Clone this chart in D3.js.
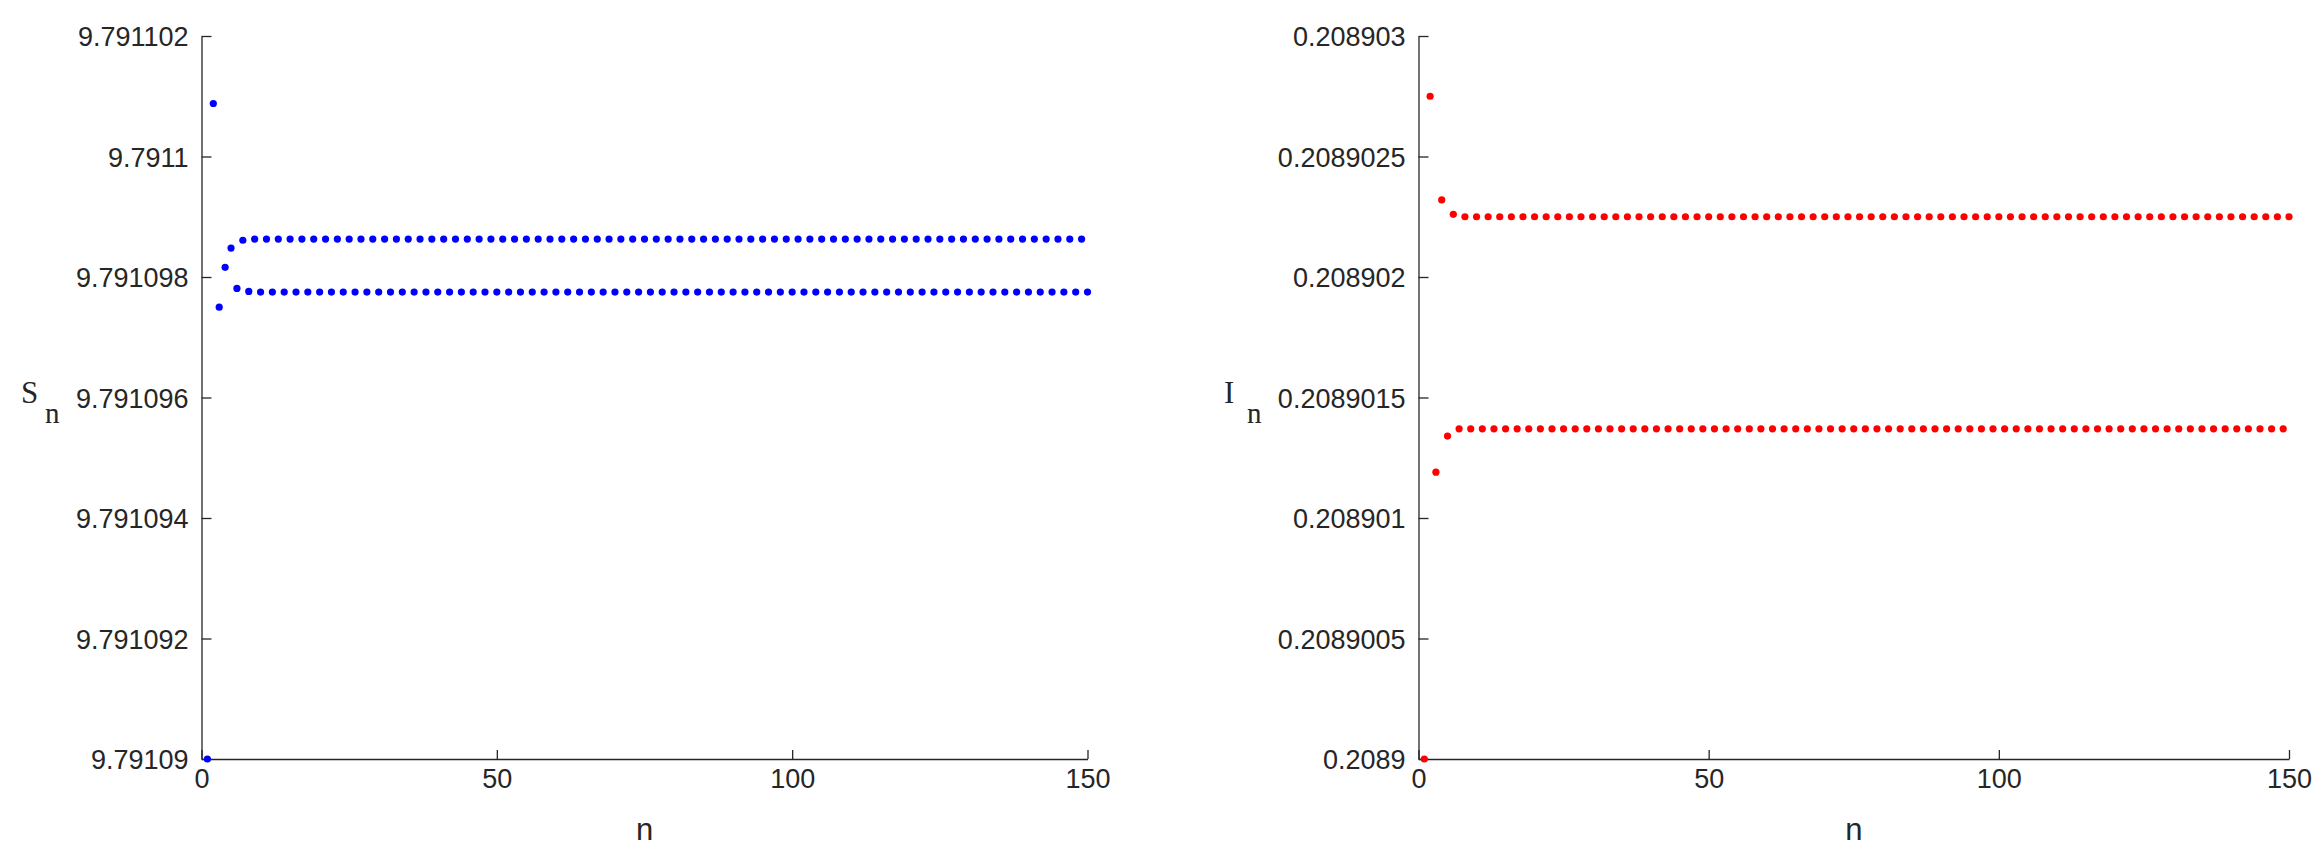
<!DOCTYPE html>
<html>
<head>
<meta charset="utf-8">
<script src="https://cdn.jsdelivr.net/npm/d3@7"></script>
<style>
  html, body { margin: 0; padding: 0; background: #ffffff; }
  svg { display: block; }
</style>
</head>
<body>
<svg id="chart" width="2324" height="860"></svg>
<script>
// ---------- data ----------
const nValues = d3.range(1, 151); // iteration index n = 1..150

const S = [
  9.79109000, 9.79110088, 9.79109750, 9.79109816, 9.79109848, 9.79109781, 9.79109861, 9.79109776, 9.79109863, 9.79109775,
  9.79109863, 9.79109775, 9.79109863, 9.79109775, 9.79109863, 9.79109775, 9.79109863, 9.79109775, 9.79109863, 9.79109775,
  9.79109863, 9.79109775, 9.79109863, 9.79109775, 9.79109863, 9.79109775, 9.79109863, 9.79109775, 9.79109863, 9.79109775,
  9.79109863, 9.79109775, 9.79109863, 9.79109775, 9.79109863, 9.79109775, 9.79109863, 9.79109775, 9.79109863, 9.79109775,
  9.79109863, 9.79109775, 9.79109863, 9.79109775, 9.79109863, 9.79109775, 9.79109863, 9.79109775, 9.79109863, 9.79109775,
  9.79109863, 9.79109775, 9.79109863, 9.79109775, 9.79109863, 9.79109775, 9.79109863, 9.79109775, 9.79109863, 9.79109775,
  9.79109863, 9.79109775, 9.79109863, 9.79109775, 9.79109863, 9.79109775, 9.79109863, 9.79109775, 9.79109863, 9.79109775,
  9.79109863, 9.79109775, 9.79109863, 9.79109775, 9.79109863, 9.79109775, 9.79109863, 9.79109775, 9.79109863, 9.79109775,
  9.79109863, 9.79109775, 9.79109863, 9.79109775, 9.79109863, 9.79109775, 9.79109863, 9.79109775, 9.79109863, 9.79109775,
  9.79109863, 9.79109775, 9.79109863, 9.79109775, 9.79109863, 9.79109775, 9.79109863, 9.79109775, 9.79109863, 9.79109775,
  9.79109863, 9.79109775, 9.79109863, 9.79109775, 9.79109863, 9.79109775, 9.79109863, 9.79109775, 9.79109863, 9.79109775,
  9.79109863, 9.79109775, 9.79109863, 9.79109775, 9.79109863, 9.79109775, 9.79109863, 9.79109775, 9.79109863, 9.79109775,
  9.79109863, 9.79109775, 9.79109863, 9.79109775, 9.79109863, 9.79109775, 9.79109863, 9.79109775, 9.79109863, 9.79109775,
  9.79109863, 9.79109775, 9.79109863, 9.79109775, 9.79109863, 9.79109775, 9.79109863, 9.79109775, 9.79109863, 9.79109775,
  9.79109863, 9.79109775, 9.79109863, 9.79109775, 9.79109863, 9.79109775, 9.79109863, 9.79109775, 9.79109863, 9.79109775
];

const I = [
  0.20890000, 0.20890275, 0.20890119, 0.20890232, 0.20890134, 0.20890226, 0.20890137, 0.20890225, 0.20890137, 0.20890225,
  0.20890137, 0.20890225, 0.20890137, 0.20890225, 0.20890137, 0.20890225, 0.20890137, 0.20890225, 0.20890137, 0.20890225,
  0.20890137, 0.20890225, 0.20890137, 0.20890225, 0.20890137, 0.20890225, 0.20890137, 0.20890225, 0.20890137, 0.20890225,
  0.20890137, 0.20890225, 0.20890137, 0.20890225, 0.20890137, 0.20890225, 0.20890137, 0.20890225, 0.20890137, 0.20890225,
  0.20890137, 0.20890225, 0.20890137, 0.20890225, 0.20890137, 0.20890225, 0.20890137, 0.20890225, 0.20890137, 0.20890225,
  0.20890137, 0.20890225, 0.20890137, 0.20890225, 0.20890137, 0.20890225, 0.20890137, 0.20890225, 0.20890137, 0.20890225,
  0.20890137, 0.20890225, 0.20890137, 0.20890225, 0.20890137, 0.20890225, 0.20890137, 0.20890225, 0.20890137, 0.20890225,
  0.20890137, 0.20890225, 0.20890137, 0.20890225, 0.20890137, 0.20890225, 0.20890137, 0.20890225, 0.20890137, 0.20890225,
  0.20890137, 0.20890225, 0.20890137, 0.20890225, 0.20890137, 0.20890225, 0.20890137, 0.20890225, 0.20890137, 0.20890225,
  0.20890137, 0.20890225, 0.20890137, 0.20890225, 0.20890137, 0.20890225, 0.20890137, 0.20890225, 0.20890137, 0.20890225,
  0.20890137, 0.20890225, 0.20890137, 0.20890225, 0.20890137, 0.20890225, 0.20890137, 0.20890225, 0.20890137, 0.20890225,
  0.20890137, 0.20890225, 0.20890137, 0.20890225, 0.20890137, 0.20890225, 0.20890137, 0.20890225, 0.20890137, 0.20890225,
  0.20890137, 0.20890225, 0.20890137, 0.20890225, 0.20890137, 0.20890225, 0.20890137, 0.20890225, 0.20890137, 0.20890225,
  0.20890137, 0.20890225, 0.20890137, 0.20890225, 0.20890137, 0.20890225, 0.20890137, 0.20890225, 0.20890137, 0.20890225,
  0.20890137, 0.20890225, 0.20890137, 0.20890225, 0.20890137, 0.20890225, 0.20890137, 0.20890225, 0.20890137, 0.20890225
];

const xTickValues = [0, 50, 100, 150];
const xTickLabels = ["0", "50", "100", "150"];

const sTickValues = [9.79109, 9.791092, 9.791094, 9.791096, 9.791098, 9.7911, 9.791102];
const sTickLabels = ["9.79109", "9.791092", "9.791094", "9.791096", "9.791098", "9.7911", "9.791102"];

const iTickValues = [0.2089, 0.2089005, 0.208901, 0.2089015, 0.208902, 0.2089025, 0.208903];
const iTickLabels = ["0.2089", "0.2089005", "0.208901", "0.2089015", "0.208902", "0.2089025", "0.208903"];

// ---------- drawing ----------
const svg = d3.select("#chart");
svg.append("rect").attr("width", 2324).attr("height", 860).attr("fill", "#ffffff");

const axisColor = "#262626";

function panel(cfg) {
  const x = d3.scaleLinear().domain([0, 150]).range([cfg.x0, cfg.x1]);
  const y = d3.scaleLinear().domain(cfg.yDomain).range([759, 36]);

  const xAxis = d3.axisBottom(x)
    .tickValues(xTickValues)
    .tickFormat((d, i) => xTickLabels[i])
    .tickSizeInner(-9).tickSizeOuter(0).tickPadding(29);
  const yAxis = d3.axisLeft(y)
    .tickValues(cfg.tickValues)
    .tickFormat((d, i) => cfg.tickLabels[i])
    .tickSizeInner(-10).tickSizeOuter(0).tickPadding(13);

  const gx = svg.append("g").attr("transform", "translate(0,759)").call(xAxis);
  const gy = svg.append("g").attr("transform", `translate(${cfg.x0},0)`).call(yAxis);

  [gx, gy].forEach(g => {
    g.selectAll("path.domain").attr("stroke", axisColor).attr("stroke-width", 1.3);
    g.selectAll(".tick line").attr("stroke", axisColor).attr("stroke-width", 1.3);
    g.selectAll(".tick text")
      .attr("fill", axisColor)
      .style("font-family", "'Liberation Sans', Arial, sans-serif")
      .style("font-size", "27px");
  });
  gy.selectAll(".tick text").attr("dy", "0.36em");
  gx.selectAll(".tick text").attr("dy", "0");

  // points
  svg.append("g").selectAll("circle")
    .data(cfg.values.map((v, i) => ({ n: nValues[i], v })))
    .join("circle")
    .attr("cx", d => x(d.n))
    .attr("cy", d => y(d.v))
    .attr("r", 3.6)
    .attr("fill", cfg.color);

  // x label
  svg.append("text")
    .attr("x", (cfg.x0 + cfg.x1) / 2)
    .attr("y", 840)
    .attr("text-anchor", "middle")
    .attr("fill", axisColor)
    .style("font-family", "'Liberation Sans', Arial, sans-serif")
    .style("font-size", "31px")
    .text("n");

  // y label with subscript
  svg.append("text")
    .attr("x", cfg.labelX)
    .attr("y", 403)
    .attr("fill", axisColor)
    .style("font-family", "'Liberation Serif', 'Times New Roman', serif")
    .style("font-size", "31px")
    .text(cfg.label);
  svg.append("text")
    .attr("x", cfg.subX)
    .attr("y", 423)
    .attr("fill", axisColor)
    .style("font-family", "'Liberation Serif', 'Times New Roman', serif")
    .style("font-size", "29px")
    .text("n");
}

panel({
  x0: 201.5, x1: 1087.5,
  yDomain: [9.79109, 9.791102],
  tickValues: sTickValues, tickLabels: sTickLabels,
  values: S, color: "#0000ff",
  label: "S", labelX: 21, subX: 45
});

panel({
  x0: 1418.5, x1: 2289,
  yDomain: [0.2089, 0.208903],
  tickValues: iTickValues, tickLabels: iTickLabels,
  values: I, color: "#ff0000",
  label: "I", labelX: 1224, subX: 1247
});
</script>
</body>
</html>
